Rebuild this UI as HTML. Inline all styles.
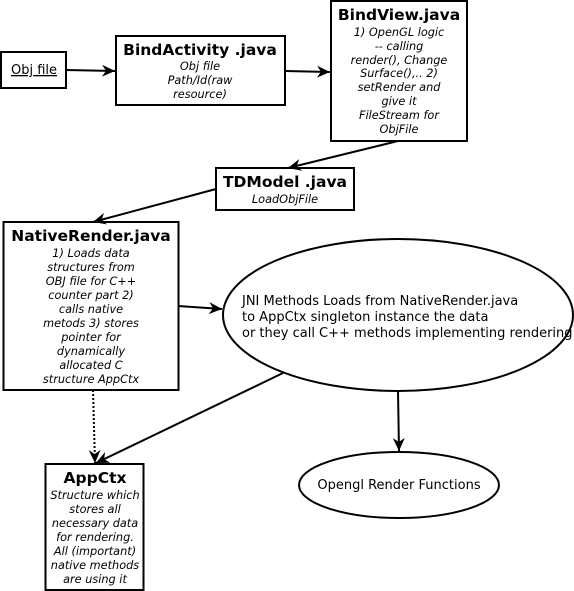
<!DOCTYPE html>
<html><head><style>
html,body{margin:0;padding:0;background:#fff;}
svg{display:block;font-family:"DejaVu Sans","Liberation Sans",sans-serif;}
.t{font-weight:bold;font-size:15.5px;text-anchor:middle;}
.i{font-style:italic;font-size:11.3px;text-anchor:middle;}
</style></head><body>
<svg width="574" height="591" viewBox="0 0 574 591" xmlns="http://www.w3.org/2000/svg">
<defs>
<marker id="a" markerWidth="14" markerHeight="12" refX="13" refY="6" orient="auto" markerUnits="userSpaceOnUse">
<path d="M0,0 L13,6 L0,12 L4,6 Z" fill="#000"/>
</marker>
</defs>
<g fill="#fff" stroke="#000" stroke-width="2">
<rect x="1" y="52" width="65" height="36"/>
<rect x="116" y="36" width="169" height="69"/>
<rect x="331" y="1" width="136" height="140"/>
<rect x="216" y="168" width="138" height="42"/>
<rect x="3.5" y="222" width="175" height="168"/>
<rect x="45.5" y="464" width="98" height="126"/>
<ellipse cx="398" cy="315" rx="175" ry="76"/>
<ellipse cx="399" cy="485" rx="100" ry="33"/>
</g>
<g stroke="#000" stroke-width="2" fill="none" marker-end="url(#a)">
<line x1="66" y1="70" x2="115" y2="71"/>
<line x1="285" y1="71" x2="330" y2="72"/>
<line x1="398" y1="141" x2="288" y2="168"/>
<line x1="216" y1="189" x2="93" y2="222"/>
<line x1="178" y1="306" x2="222" y2="309"/>
<line x1="93" y1="390" x2="95" y2="463" stroke-dasharray="2,2"/>
<line x1="283" y1="373" x2="96" y2="463"/>
<line x1="398" y1="391" x2="399" y2="451"/>
</g>
<text x="34" y="74" font-size="13" text-anchor="middle" text-decoration="underline">Obj file</text>

<text class="t" x="200" y="55">BindActivity .java</text>
<text class="i" x="200" y="70">Obj file</text>
<text class="i" x="200" y="84">Path/Id(raw</text>
<text class="i" x="200" y="98">resource)</text>

<text class="t" x="399" y="20">BindView.java</text>
<text class="i" x="399" y="36">1) OpenGL logic</text>
<text class="i" x="399" y="50">-- calling</text>
<text class="i" x="399" y="64">render(), Change</text>
<text class="i" x="399" y="77">Surface(),.. 2)</text>
<text class="i" x="399" y="91">setRender and</text>
<text class="i" x="399" y="105">give it</text>
<text class="i" x="399" y="119">FileStream for</text>
<text class="i" x="399" y="133">ObjFile</text>

<text class="t" x="285" y="187">TDModel .java</text>
<text class="i" x="285" y="203">LoadObjFile</text>

<text class="t" x="91" y="241">NativeRender.java</text>
<text class="i" x="91" y="257">1) Loads data</text>
<text class="i" x="91" y="271">structures from</text>
<text class="i" x="91" y="285">OBJ file for C++</text>
<text class="i" x="91" y="299">counter part 2)</text>
<text class="i" x="91" y="313">calls native</text>
<text class="i" x="91" y="327">metods 3) stores</text>
<text class="i" x="91" y="341">pointer for</text>
<text class="i" x="91" y="355">dynamically</text>
<text class="i" x="91" y="369">allocated C</text>
<text class="i" x="91" y="383">structure AppCtx</text>

<text class="t" x="95" y="483">AppCtx</text>
<text class="i" x="95" y="499">Structure which</text>
<text class="i" x="95" y="513">stores all</text>
<text class="i" x="95" y="527">necessary data</text>
<text class="i" x="95" y="541">for rendering.</text>
<text class="i" x="95" y="555">All (important)</text>
<text class="i" x="95" y="569">native methods</text>
<text class="i" x="95" y="583">are using it</text>

<g font-size="13">
<text x="242" y="305">JNI Methods Loads from NativeRender.java</text>
<text x="242" y="321">to AppCtx singleton instance the data</text>
<text x="242" y="337">or they call C++ methods implementing rendering</text>
</g>
<text x="399" y="489" font-size="13" text-anchor="middle">Opengl Render Functions</text>
</svg>
</body></html>
